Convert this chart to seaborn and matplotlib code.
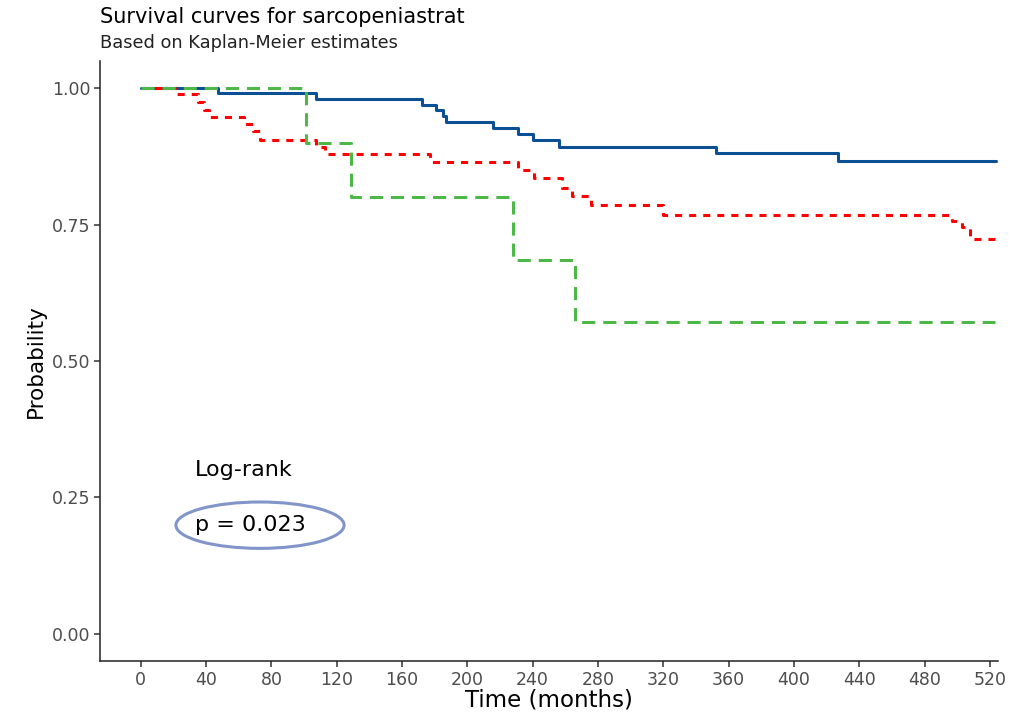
import matplotlib
matplotlib.use('Agg')
import matplotlib.pyplot as plt
from matplotlib.patches import Ellipse
import pandas as pd
import seaborn as sns

# Kaplan-Meier step points (time in months, survival)
blue_time = [0, 47, 107, 172, 181, 185, 187, 216, 231, 240, 256, 352, 427, 524]
blue_surv = [1.0, 0.991, 0.980, 0.969, 0.960, 0.950, 0.938, 0.927, 0.916, 0.905, 0.893, 0.882, 0.866, 0.866]

red_time = [0, 21, 35, 39, 42, 63, 69, 73, 107, 113, 177, 231, 241, 258, 264, 276, 320, 497, 503, 508, 523]
red_surv = [1.0, 0.989, 0.974, 0.961, 0.947, 0.934, 0.921, 0.906, 0.893, 0.879, 0.865, 0.851, 0.835,
            0.818, 0.802, 0.786, 0.768, 0.757, 0.746, 0.724, 0.724]

green_time = [0, 101, 129, 228, 266, 523]
green_surv = [1.0, 0.9, 0.8, 0.686, 0.571, 0.571]

x_ticks = list(range(0, 521, 40))
y_ticks = [0.0, 0.25, 0.5, 0.75, 1.0]
y_tick_labels = ['0.00', '0.25', '0.50', '0.75', '1.00']

curves = [
    (blue_time, blue_surv, '#0b4f94', '-'),
    (red_time, red_surv, '#ff0000', (0, (2.3, 2.3))),
    (green_time, green_surv, '#4db848', (0, (4.3, 2.6))),
]

sns.set_theme(style='white')
plt.rcParams['font.family'] = ['DejaVu Sans']
plt.rcParams['text.color'] = 'black'
plt.rcParams['axes.labelcolor'] = 'black'

fig = plt.figure(figsize=(10.33, 7.12), dpi=100)
ax = fig.add_axes([100 / 1033, 1 - 661 / 712, 898 / 1033, 600 / 712])

for t, s, color, ls in curves:
    df = pd.DataFrame({'time': t, 'surv': s})
    sns.lineplot(data=df, x='time', y='surv', drawstyle='steps-post', estimator=None,
                 color=color, linestyle=ls, linewidth=2.2, ax=ax)

ax.set_xlim(-25, 525)
ax.set_ylim(-0.05, 1.05)
ax.set_xticks(x_ticks)
ax.set_yticks(y_ticks)
ax.set_yticklabels(y_tick_labels)
ax.tick_params(axis='both', labelsize=12.5, labelcolor='#4d4d4d', length=4, width=1.1,
               color='#333333', direction='out', bottom=True, left=True, pad=3)
for side in ['top', 'right']:
    ax.spines[side].set_visible(False)
for side in ['left', 'bottom']:
    ax.spines[side].set_color('#222222')
    ax.spines[side].set_linewidth(1.1)

ax.set_xlabel('Time (months)', fontsize=16.5, labelpad=0)
ax.set_ylabel('Probability', fontsize=15.5, labelpad=4)

# log-rank annotation
ax.text(33, 0.30, 'Log-rank', fontsize=16, va='center', ha='left')
ax.text(33, 0.199, 'p = 0.023', fontsize=16, va='center', ha='left')
ax.add_patch(Ellipse((73, 0.199), 103, 0.085, fill=False, edgecolor='#8195c9', linewidth=2.2))

fig.text(100 / 1033, 1 - 17 / 712, 'Survival curves for sarcopeniastrat', fontsize=15,
         ha='left', va='center')
fig.text(100 / 1033, 1 - 43 / 712, 'Based on Kaplan-Meier estimates', fontsize=12.8,
         ha='left', va='center', color='#222222')

fig.savefig('out.png', dpi=100)
